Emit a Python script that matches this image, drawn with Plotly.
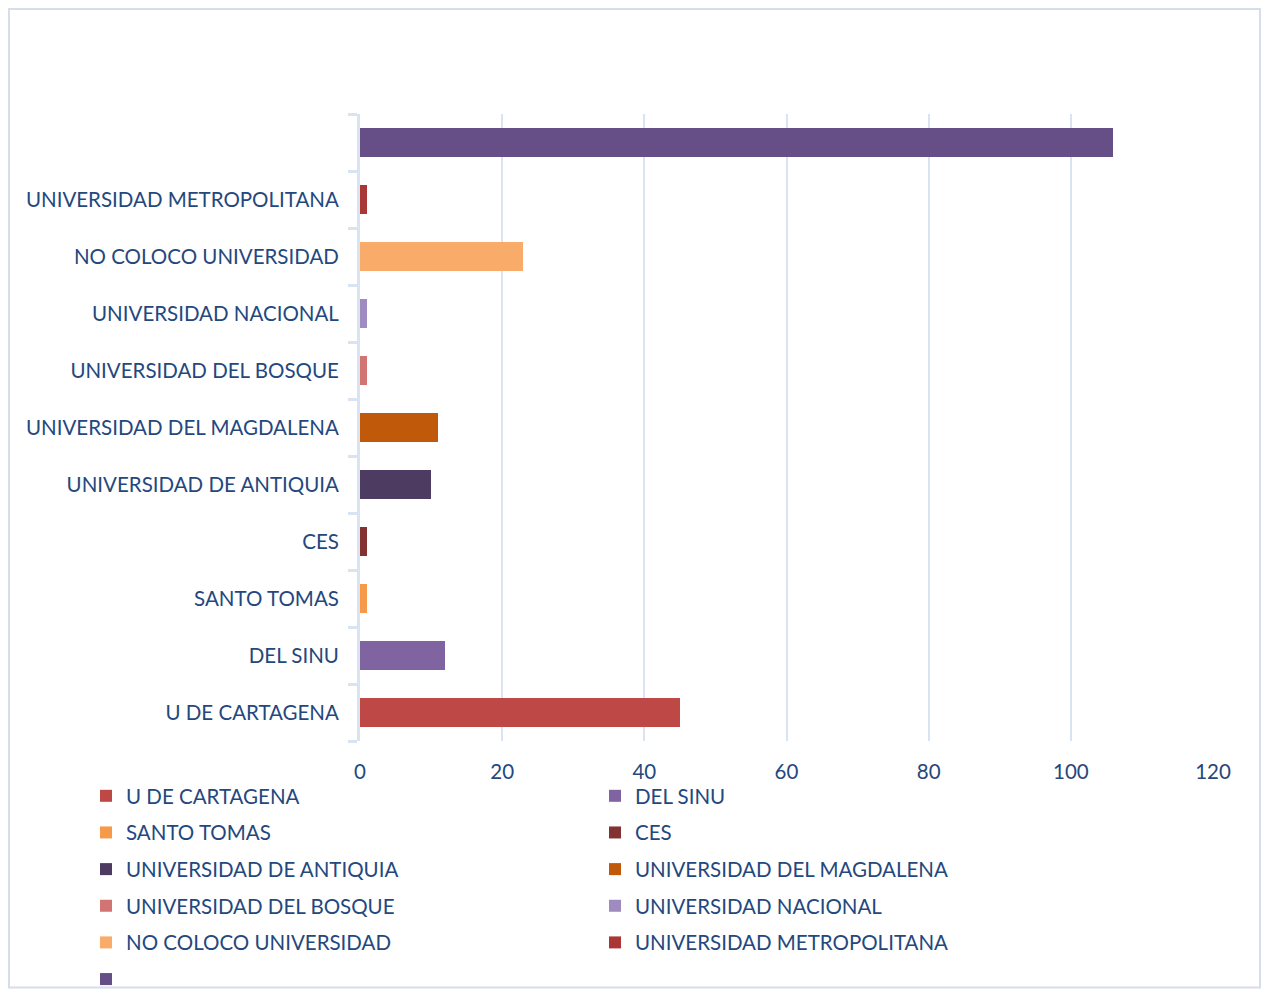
import plotly.graph_objects as go

# Data ===========================================================================
universidades = ["U DE CARTAGENA", "DEL SINU", "SANTO TOMAS", "CES",
                 "UNIVERSIDAD DE ANTIQUIA", "UNIVERSIDAD DEL MAGDALENA",
                 "UNIVERSIDAD DEL BOSQUE", "UNIVERSIDAD NACIONAL",
                 "NO COLOCO UNIVERSIDAD", "UNIVERSIDAD METROPOLITANA", " "]
cantidades = [45, 12, 1, 1, 10, 11, 1, 1, 23, 1, 106]
colores = ["#BE4845", "#8064A2", "#F7994A", "#823230", "#4D3B62", "#C05A0A",
           "#D27471", "#A08BC0", "#F9AB6A", "#A83735", "#664E87"]
x_ticks = [0, 20, 40, 60, 80, 100, 120]

TEXT = "#24487D"
GRID = "#D9E4F3"
FONT = "Lato, 'Open Sans', sans-serif"
FSIZE = 20.5

# Figure =========================================================================
fig = go.Figure()
for i, (nombre, valor, color) in enumerate(zip(universidades, cantidades, colores)):
    # legend entries alternate between two columns (legend / legend2)
    fig.add_trace(go.Bar(
        x=[valor], y=[nombre], name=nombre, orientation="h",
        marker=dict(color=color, line=dict(width=0)),
        legend="legend" if i % 2 == 0 else "legend2",
        legendgroup=nombre,
    ))

legend_cfg = dict(
    orientation="v", yanchor="top", y=-0.0558, xanchor="left",
    font=dict(family=FONT, size=FSIZE, color=TEXT),
    traceorder="grouped", tracegroupgap=7, itemclick=False,
    bgcolor="rgba(0,0,0,0)",
)

# NOTE the page adds an 8px body margin, so the figure is 8px smaller
fig.update_layout(
    width=1261, height=982,
    paper_bgcolor="white", plot_bgcolor="white",
    margin=dict(l=352, r=56, t=106, b=249, autoexpand=False),
    barmode="stack", bargap=0.49,
    font=dict(family=FONT, size=FSIZE, color=TEXT),
    showlegend=True,
    legend=dict(legend_cfg, x=-0.3212),
    legend2=dict(legend_cfg, x=0.2755),
    xaxis=dict(
        range=[0, 120], tickvals=x_ticks, showgrid=True, gridcolor=GRID,
        gridwidth=2, zeroline=False, showline=False, ticks="",
        ticklabelstandoff=16,
        tickfont=dict(size=FSIZE, color=TEXT), fixedrange=True,
    ),
    yaxis=dict(
        type="category", categoryorder="array", categoryarray=universidades,
        showgrid=False, zeroline=False, showline=True, linecolor=GRID,
        linewidth=3, ticks="outside", tickson="boundaries", ticklen=9,
        tickcolor=GRID, tickwidth=3, ticklabelstandoff=14,
        tickfont=dict(size=FSIZE, color=TEXT), automargin=False,
    ),
)

# outer chart frame
fig.add_shape(type="rect", xref="paper", yref="paper",
              x0=-0.4115, x1=1.0551, y0=-0.393, y1=1.1675,
              line=dict(color="#D5DEEA", width=2), fillcolor="rgba(0,0,0,0)",
              layer="below")

fig.write_html("out.html")
